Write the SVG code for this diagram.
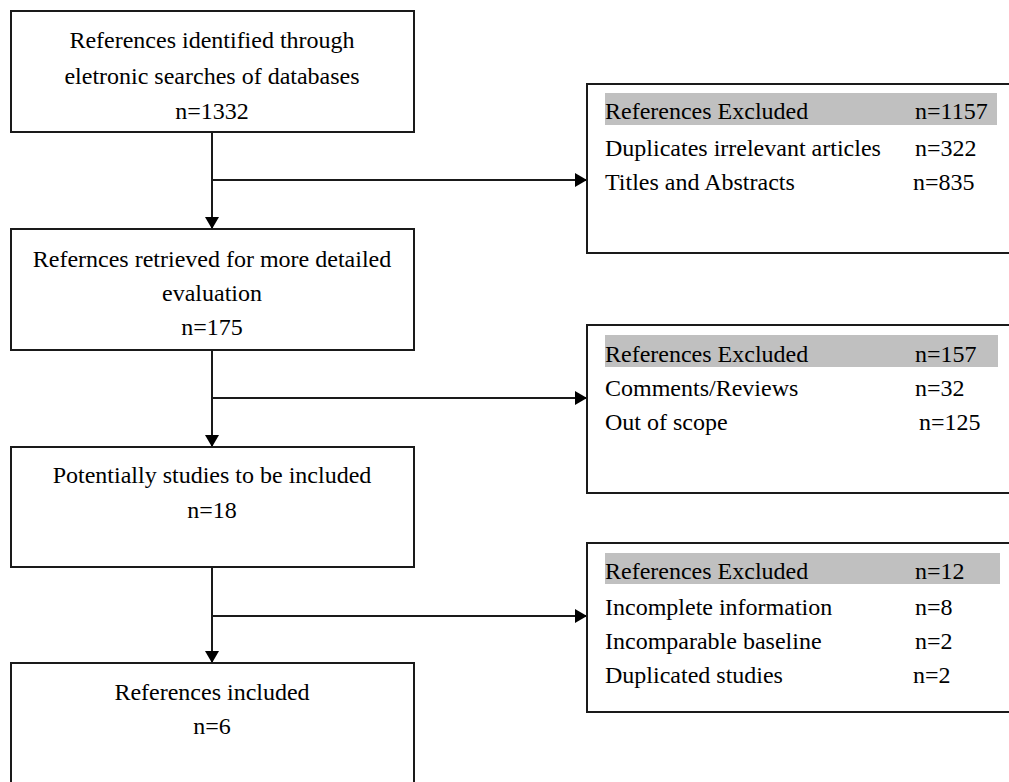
<svg xmlns="http://www.w3.org/2000/svg" width="1009" height="782" viewBox="0 0 1009 782">
<defs>
<marker id="ah" viewBox="0 0 12 14" refX="12" refY="7" markerWidth="12" markerHeight="14" markerUnits="userSpaceOnUse" orient="auto">
<path d="M0,0 L12,7 L0,14 Z" fill="#000"/>
</marker>
<style>
.box{fill:#fff;stroke:#1a1a1a;stroke-width:2}
.band{fill:#c0c0c0}
text{font-family:"Liberation Serif","Times New Roman",serif;font-size:24px;fill:#000}
.c{text-anchor:middle}
.ln{fill:none;stroke:#1a1a1a;stroke-width:2}
</style>
</defs>
<rect width="1009" height="782" fill="#fff"/>
<g id="connectors">
<line class="ln" x1="212" y1="133" x2="212" y2="229" marker-end="url(#ah)"/>
<line class="ln" x1="212" y1="180" x2="587" y2="180" marker-end="url(#ah)"/>
<line class="ln" x1="212" y1="350" x2="212" y2="447" marker-end="url(#ah)"/>
<line class="ln" x1="212" y1="398" x2="587" y2="398" marker-end="url(#ah)"/>
<line class="ln" x1="212" y1="567" x2="212" y2="663" marker-end="url(#ah)"/>
<line class="ln" x1="212" y1="616" x2="587" y2="616" marker-end="url(#ah)"/>
</g>
<g id="node1">
<rect class="box" x="11" y="11" width="403" height="121"/>
<text class="c" x="212" y="48">References identified through</text>
<text class="c" x="212" y="84">eletronic searches of databases</text>
<text class="c" x="212" y="119">n=1332</text>
</g>
<g id="node2">
<rect class="box" x="11" y="229" width="403" height="121"/>
<text class="c" x="212" y="267">Refernces retrieved for more detailed</text>
<text class="c" x="212" y="301">evaluation</text>
<text class="c" x="212" y="335">n=175</text>
</g>
<g id="node3">
<rect class="box" x="11" y="447" width="403" height="120"/>
<text class="c" x="212" y="483">Potentially studies to be included</text>
<text class="c" x="212" y="518">n=18</text>
</g>
<g id="node4">
<rect class="box" x="11" y="663" width="403" height="130"/>
<text class="c" x="212" y="700">References included</text>
<text class="c" x="212" y="734">n=6</text>
</g>
<g id="excl1">
<rect class="box" x="587" y="84" width="440" height="169"/>
<rect class="band" x="605" y="93" width="392" height="32"/>
<text x="605" y="119">References Excluded</text>
<text x="915" y="119">n=1157</text>
<text x="605" y="156">Duplicates irrelevant articles</text>
<text x="915" y="156">n=322</text>
<text x="605" y="190">Titles and Abstracts</text>
<text x="913" y="190">n=835</text>
</g>
<g id="excl2">
<rect class="box" x="587" y="325" width="440" height="168"/>
<rect class="band" x="605" y="335" width="393" height="32"/>
<text x="605" y="362">References Excluded</text>
<text x="915" y="362">n=157</text>
<text x="605" y="396">Comments/Reviews</text>
<text x="915" y="396">n=32</text>
<text x="605" y="430">Out of scope</text>
<text x="919" y="430">n=125</text>
</g>
<g id="excl3">
<rect class="box" x="587" y="543" width="440" height="169"/>
<rect class="band" x="605" y="553" width="395" height="31"/>
<text x="605" y="579">References Excluded</text>
<text x="915" y="579">n=12</text>
<text x="605" y="615">Incomplete information</text>
<text x="915" y="615">n=8</text>
<text x="605" y="649">Incomparable baseline</text>
<text x="915" y="649">n=2</text>
<text x="605" y="683">Duplicated studies</text>
<text x="913" y="683">n=2</text>
</g>
</svg>
